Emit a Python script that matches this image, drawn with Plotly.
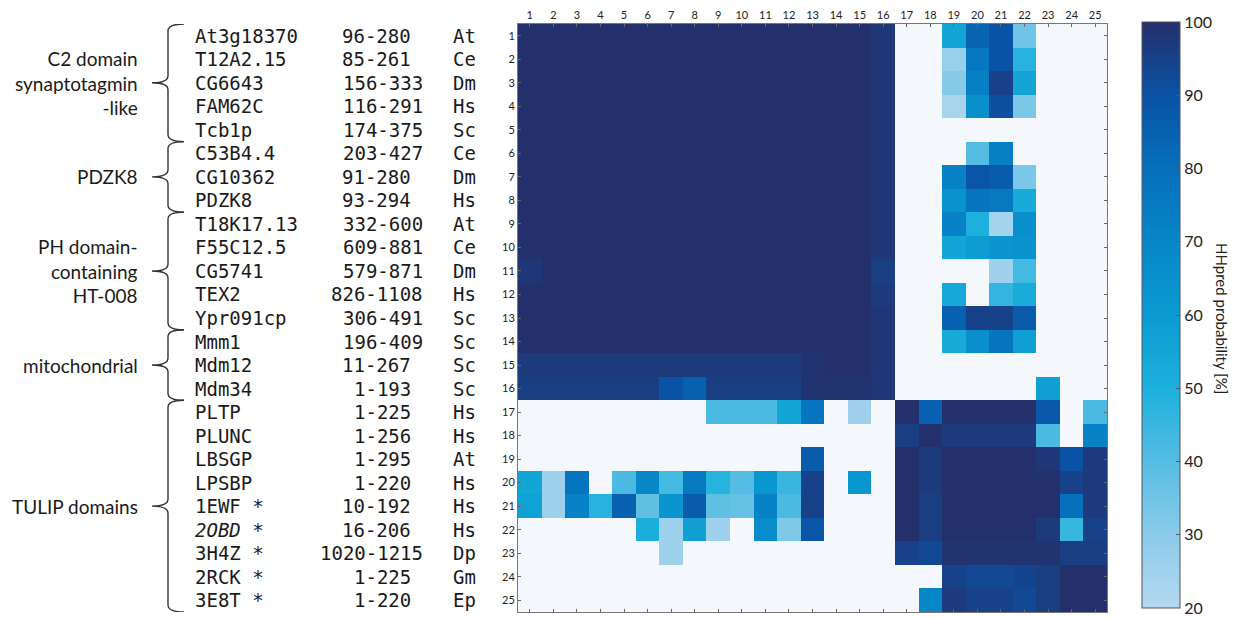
import plotly.graph_objects as go

# ---------------- data ----------------
names = ["At3g18370", "T12A2.15", "CG6643", "FAM62C", "Tcb1p",
         "C53B4.4", "CG10362", "PDZK8",
         "T18K17.13", "F55C12.5", "CG5741", "TEX2", "Ypr091cp",
         "Mmm1", "Mdm12", "Mdm34",
         "PLTP", "PLUNC", "LBSGP", "LPSBP", "1EWF *", "<i>2OBD</i> *", "3H4Z *", "2RCK *", "3E8T *"]
ranges = ["96-280", "85-261", "156-333", "116-291", "174-375",
          "203-427", "91-280", "93-294",
          "332-600", "609-881", "579-871", "826-1108", "306-491",
          "196-409", "11-267", "1-193",
          "1-225", "1-256", "1-295", "1-220", "10-192", "16-206", "1020-1215", "1-225", "1-220"]
species = ["At", "Ce", "Dm", "Hs", "Sc",
           "Ce", "Dm", "Hs",
           "At", "Ce", "Dm", "Hs", "Sc",
           "Sc", "Sc", "Sc",
           "Hs", "Hs", "At", "Hs", "Hs", "Hs", "Dp", "Gm", "Ep"]
groups = ["C2 domain<br>synaptotagmin<br>-like", "PDZK8",
          "PH domain-<br>containing<br>HT-008", "mitochondrial", "TULIP domains"]
group_first = [1, 6, 9, 14, 17]
group_last = [5, 8, 13, 16, 25]

columns = list(range(1, 26))
rows = list(range(1, 26))

# HHpred probability [%]; 0 = below the 20 % display threshold
probability = [
    [100]*15 + [98] + [0, 0, 55, 84, 90, 35, 0, 0, 0],
    [100]*15 + [98] + [0, 0, 27, 77, 90, 48, 0, 0, 0],
    [100]*15 + [98] + [0, 0, 31, 73, 95, 55, 0, 0, 0],
    [100]*15 + [98] + [0, 0, 23, 65, 91, 33, 0, 0, 0],
    [100]*15 + [98] + [0, 0, 0, 0, 0, 0, 0, 0, 0],
    [100]*15 + [98] + [0, 0, 0, 40, 73, 0, 0, 0, 0],
    [100]*15 + [98] + [0, 0, 72, 89, 87, 33, 0, 0, 0],
    [100]*15 + [98] + [0, 0, 64, 78, 76, 53, 0, 0, 0],
    [100]*15 + [98] + [0, 0, 72, 50, 24, 65, 0, 0, 0],
    [100]*15 + [98] + [0, 0, 55, 59, 63, 64, 0, 0, 0],
    [98] + [100]*14 + [96] + [0, 0, 0, 0, 25, 43, 0, 0, 0],
    [100]*15 + [97] + [0, 0, 54, 0, 46, 52, 0, 0, 0],
    [100]*15 + [98] + [0, 0, 85, 95, 95, 87, 0, 0, 0],
    [100]*15 + [98] + [0, 0, 53, 65, 78, 58, 0, 0, 0],
    [97]*12 + [99, 100, 100, 98] + [0, 0, 0, 0, 0, 0, 0, 0, 0],
    [96]*6 + [90, 85] + [96]*4 + [99, 99, 99, 98] + [0, 0, 0, 0, 0, 0, 58, 0, 0],
    [0]*8 + [42, 42, 42, 55, 78, 0, 25, 0] + [100, 85, 100, 100, 100, 100, 88, 0, 42],
    [0]*16 + [96, 100, 97, 97, 97, 97, 42, 0, 72],
    [0]*12 + [87, 0, 0, 0] + [100, 97, 100, 100, 100, 100, 98, 90, 97],
    [55, 26, 78, 0, 42, 70, 43, 76, 48, 40, 62, 45, 95, 0, 62, 0] + [100, 97, 100, 100, 100, 100, 100, 95, 97],
    [57, 26, 72, 48, 85, 38, 63, 87, 38, 37, 72, 42, 95, 0, 0, 0] + [100, 96, 100, 100, 100, 100, 100, 80, 97],
    [0, 0, 0, 0, 0, 51, 26, 58, 25, 0, 67, 32, 89, 0, 0, 0] + [100, 96, 100, 100, 100, 100, 97, 45, 95],
    [0]*6 + [25] + [0]*9 + [95, 93, 99, 99, 99, 99, 99, 96, 96],
    [0]*16 + [0, 0, 95, 93, 93, 94, 96, 100, 100],
    [0]*16 + [0, 70, 97, 95, 95, 93, 96, 100, 100],
]

cbar_ticks = [20, 30, 40, 50, 60, 70, 80, 90, 100]

# ---------------- figure ----------------
W, H = 1239, 619
def px(x):
    return x / W
def py(y):
    return 1 - y / H

z = [[v if v >= 20 else None for v in r] for r in probability]

colorscale = [
    [0.0, "#b5d8f0"],
    [0.125, "#8bcbe9"],
    [0.25, "#55bde3"],
    [0.375, "#1db0dd"],
    [0.5, "#0b9bd1"],
    [0.625, "#0786c8"],
    [0.75, "#0670bc"],
    [0.875, "#0a52a5"],
    [1.0, "#24306b"],
]

cb_top, cb_bot = 22, 608

fig = go.Figure(go.Heatmap(
    z=z, x=columns, y=rows,
    colorscale=colorscale, zmin=19.999, zmax=100,
    hoverongaps=False,
    colorbar=dict(
        x=px(1142), xanchor="left", xpad=0,
        y=py((cb_top + cb_bot) / 2), yanchor="middle", ypad=0,
        len=(cb_bot - cb_top) / H, lenmode="fraction",
        thickness=38, thicknessmode="pixels",
        outlinecolor="#555", outlinewidth=1,
        tickvals=cbar_ticks, ticks="inside", ticklen=4, tickcolor="#555",
        ticklabeloverflow="allow",
        tickfont=dict(family="Lato", size=16, color="#222"),
    ),
))

mono = dict(family="DejaVu Sans Mono", size=19, color="#1a1a1a")
sans = dict(family="Lato", size=19, color="#1a1a1a")

ann = []
for i, r in enumerate(rows):
    ann.append(dict(x=px(193), y=r, xref="paper", yref="y", text=names[i],
                    showarrow=False, xanchor="left", yanchor="middle", font=mono))
    right = 425 if len(ranges[i]) > 6 else 413
    ann.append(dict(x=px(right), y=r, xref="paper", yref="y", text=ranges[i],
                    showarrow=False, xanchor="right", yanchor="middle", font=mono))
    ann.append(dict(x=px(451), y=r, xref="paper", yref="y", text=species[i],
                    showarrow=False, xanchor="left", yanchor="middle", font=mono))

shapes = []
for g, a, b in zip(groups, group_first, group_last):
    top, bot = a - 0.5, b + 0.5
    mid = (top + bot) / 2
    ann.append(dict(x=px(140), y=mid, xref="paper", yref="y", text=g, align="right",
                    showarrow=False, xanchor="right", yanchor="middle", font=sans))
    x0, xh, xt = px(168), px(184), px(152)
    r = 0.3
    path = (f"M {xh},{top} Q {x0},{top} {x0},{top + r} "
            f"L {x0},{mid - r} Q {x0},{mid} {xt},{mid} "
            f"Q {x0},{mid} {x0},{mid + r} "
            f"L {x0},{bot - r} Q {x0},{bot} {xh},{bot}")
    shapes.append(dict(type="path", path=path, xref="paper", yref="y",
                       line=dict(color="#333", width=1.4)))

ann.append(dict(x=px(1222), y=py(318), xref="paper", yref="paper",
                text="HHpred probability [%]", textangle=90, showarrow=False,
                xanchor="center", yanchor="middle",
                font=dict(family="Lato", size=15, color="#222")))

fig.update_layout(
    width=W, height=H,
    margin=dict(l=0, r=0, t=0, b=0, autoexpand=False),
    paper_bgcolor="white",
    plot_bgcolor="#f4f8fc",
    annotations=ann,
    shapes=shapes,
    xaxis=dict(domain=[px(518), px(1107)], range=[0.5, 25.5], side="top",
               tickvals=columns, ticks="inside", ticklen=3, tickcolor="#666",
               showline=True, mirror="ticks", linecolor="#777", linewidth=1,
               showgrid=False, zeroline=False,
               tickfont=dict(family="Lato", size=11, color="#222")),
    yaxis=dict(domain=[py(612), py(24)], range=[25.5, 0.5],
               tickvals=rows, ticks="inside", ticklen=3, tickcolor="#666",
               showline=True, mirror="ticks", linecolor="#777", linewidth=1,
               showgrid=False, zeroline=False,
               tickfont=dict(family="Lato", size=11, color="#222")),
)

fig.write_html("out.html",
               config={"displayModeBar": False},
               post_script="document.body.style.margin='0';document.body.style.overflow='hidden';")
